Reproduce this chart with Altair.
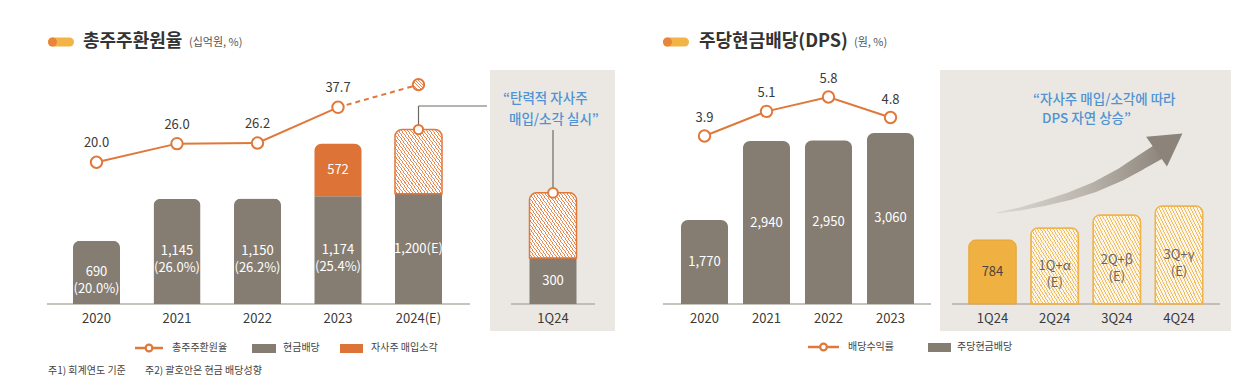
import altair as alt
import pandas as pd

FONT = "Noto Sans CJK KR"
GREY = "#857d72"
ORANGE = "#e0783a"
ORANGE_BAR = "#dd7336"
GOLD = "#f0b143"
BG = "#ebe8e3"
AXIS = "#b4afa7"
TXT = "#3a3a3a"
BLUE = "#4f93d3"

# ---------------- data ----------------
years = ["2020", "2021", "2022", "2023", "2024(E)"]
cash_div = [690, 1145, 1150, 1174, 1200]
payout = [20.0, 26.0, 26.2, 25.4, None]
buyback = [0, 0, 0, 572, 700]
estimate = [False, False, False, False, True]
tsr = [20.0, 26.0, 26.2, 37.7, 45.0]

q1_cat = ["1Q24"]
q1_cash = [300]
q1_buy = [425]

dps_years = ["2020", "2021", "2022", "2023"]
dps = [1770, 2940, 2950, 3060]
dps_yield = [3.9, 5.1, 5.8, 4.8]

quarters = ["1Q24", "2Q24", "3Q24", "4Q24"]
q_dps = [784, 930, 1090, 1200]
q_labels = ["784", "1Q+α\n(E)", "2Q+β\n(E)", "3Q+γ\n(E)"]
q_est = [False, True, True, True]

# decorative arrow path (quarter position, value units)
arrow_q = [0.072, 0.442, 0.844, 1.247, 1.649, 2.051, 2.373, 2.663]
arrow_v = [1115, 1164, 1237, 1323, 1433, 1580, 1727, 1862]
head_q = [2.847]
head_v = [1978]

H = 371
dummy = pd.DataFrame({"k": [0]})


def hatch(line_col, bg_col, n, duty=0.32):
    stops = []
    for i in range(n):
        a, b, c = i / n, (i + duty) / n, (i + 1) / n
        stops += [
            {"offset": a, "color": line_col},
            {"offset": b, "color": line_col},
            {"offset": b, "color": bg_col},
            {"offset": c, "color": bg_col},
        ]
    return {"gradient": "linear", "x1": 1, "y1": 0, "x2": 0, "y2": 1, "stops": stops}


def vtext(txt, x, y, size=13, color=TXT, weight="normal", align="center"):
    return alt.Chart(dummy).mark_text(
        text=txt, fontSize=size, color=color, fontWeight=weight, align=align,
        baseline="middle", font=FONT
    ).encode(x=alt.value(x), y=alt.value(y))


def hrule(x1, x2, y, color=AXIS, w=1.5):
    return alt.Chart(dummy).mark_rule(color=color, strokeWidth=w).encode(
        x=alt.value(x1), x2=alt.value(x2), y=alt.value(y))


def rect(x1, x2, y1, y2, color):
    return alt.Chart(dummy).mark_rect(color=color).encode(
        x=alt.value(x1), x2=alt.value(x2), y=alt.value(y1), y2=alt.value(y2))


def pill(x, y):
    return [
        alt.Chart(dummy).mark_rule(color="#f2b347", strokeWidth=9, strokeCap="round").encode(
            x=alt.value(x + 4.5), x2=alt.value(x + 21.5), y=alt.value(y)),
        alt.Chart(dummy).mark_point(shape="circle", filled=True, color="#e8853a", size=81, opacity=1).encode(
            x=alt.value(x + 4.5), y=alt.value(y)),
    ]


def legend_line(x1, x2, y):
    return [
        alt.Chart(dummy).mark_rule(color=ORANGE, strokeWidth=2.5).encode(
            x=alt.value(x1), x2=alt.value(x2), y=alt.value(y)),
        alt.Chart(dummy).mark_point(shape="circle", filled=True, fill="white", stroke=ORANGE,
                                    strokeWidth=2.2, size=45, opacity=1).encode(
            x=alt.value((x1 + x2) / 2), y=alt.value(y)),
    ]


def open_pt(size=130):
    return dict(shape="circle", filled=True, fill="white", stroke=ORANGE, strokeWidth=2, size=size, opacity=1)


# ---------------- panel 1 : total shareholder return ----------------
lab1 = []
for c, p, e in zip(cash_div, payout, estimate):
    lab1.append(f"{c:,}(E)" if e else f"{c:,}\n({p:.1f}%)")
df1 = pd.DataFrame({"year": years, "cash": cash_div, "buy": buyback, "est": estimate,
                    "tsr": tsr, "lab": lab1})
df1["total"] = df1["cash"] + df1["buy"]

xs1 = alt.Scale(domain=years, range=[48.25, 450.75], paddingInner=0.416, paddingOuter=0.208)
ys1 = alt.Scale(domain=[0, 3000], range=[296, 20.6], zero=False)
yl1 = alt.Scale(domain=[0, 50], range=[216.4, 61.1], zero=False)
X1 = alt.X("year:N", scale=xs1, axis=None)
base1 = alt.Chart(df1)

p1_layers = [
    hrule(39, 462, 296),
    base1.transform_filter("datum.buy == 0").mark_bar(
        color=GREY, cornerRadiusTopLeft=7, cornerRadiusTopRight=7).encode(
        x=X1, y=alt.Y("cash:Q", scale=ys1, axis=None)),
    base1.transform_filter("datum.buy > 0").mark_bar(color=GREY).encode(
        x=X1, y=alt.Y("cash:Q", scale=ys1, axis=None)),
    base1.transform_filter("datum.buy > 0 && !datum.est").mark_bar(
        color=ORANGE_BAR, cornerRadiusTopLeft=7, cornerRadiusTopRight=7).encode(
        x=X1, y=alt.Y("total:Q", scale=ys1, axis=None), y2="cash:Q"),
    base1.transform_filter("datum.est").mark_bar(
        fill=hatch("#e9874e", "#ffffff", 30), stroke=ORANGE, strokeWidth=1.5,
        cornerRadiusTopLeft=7, cornerRadiusTopRight=7).encode(
        x=X1, y=alt.Y("total:Q", scale=ys1, axis=None), y2="cash:Q"),
    base1.transform_calculate(mid="datum.cash/2").mark_text(
        color="white", fontSize=13, lineBreak="\n", lineHeight=17, font=FONT).encode(
        x=X1, y=alt.Y("mid:Q", scale=ys1, axis=None), text="lab:N"),
    base1.transform_filter("datum.buy > 0 && !datum.est").transform_calculate(
        mid="(datum.cash + datum.total)/2").mark_text(color="white", fontSize=13, font=FONT).encode(
        x=X1, y=alt.Y("mid:Q", scale=ys1, axis=None), text=alt.Text("buy:Q", format=",")),
    # connector from 2024 bar to the 1Q24 box
    base1.transform_filter("datum.est").mark_rule(color="#6e6862", strokeWidth=1.2).encode(
        x=X1, y=alt.Y("total:Q", scale=ys1, axis=None), y2=alt.value(98)),
    base1.transform_filter("datum.est").mark_rule(color="#6e6862", strokeWidth=1.2).encode(
        x=X1, x2=alt.value(479), y=alt.value(98)),
    base1.transform_filter("datum.est").mark_point(**open_pt(85)).encode(
        x=X1, y=alt.Y("total:Q", scale=ys1, axis=None)),
    # total shareholder return line
    base1.transform_filter("!datum.est").mark_line(color=ORANGE, strokeWidth=2).encode(
        x=X1, y=alt.Y("tsr:Q", scale=yl1, axis=None)),
    base1.transform_filter("datum.year == '2023' || datum.est").mark_line(
        color=ORANGE, strokeWidth=2, strokeDash=[5, 4]).encode(
        x=X1, y=alt.Y("tsr:Q", scale=yl1, axis=None)),
    base1.transform_filter("!datum.est").mark_point(**open_pt()).encode(
        x=X1, y=alt.Y("tsr:Q", scale=yl1, axis=None)),
    base1.transform_filter("datum.est").mark_point(
        shape="circle", filled=True, fill=hatch("#e9874e", "#ffffff", 7), stroke=ORANGE,
        strokeWidth=2, size=130, opacity=1).encode(
        x=X1, y=alt.Y("tsr:Q", scale=yl1, axis=None)),
    base1.transform_filter("!datum.est").mark_text(dy=-19, fontSize=13, color=TXT, font=FONT).encode(
        x=X1, y=alt.Y("tsr:Q", scale=yl1, axis=None), text=alt.Text("tsr:Q", format=".1f")),
    base1.mark_text(fontSize=13, color=TXT, font=FONT).encode(
        x=X1, y=alt.value(311), text="year:N"),
    # title
    *pill(40, 34),
    vtext("총주주환원율", 75, 34, size=18, weight="bold", align="left", color="#333333"),
    vtext("(십억원, %)", 181, 35, size=11, align="left", color="#555555"),
    # legend
    *legend_line(127, 155, 340),
    vtext("총주주환원율", 164, 340, size=10, align="left", color="#444444"),
    rect(244, 268, 336, 345, GREY),
    vtext("현금배당", 275, 340, size=10, align="left", color="#444444"),
    rect(332, 355, 336, 345, ORANGE_BAR),
    vtext("자사주 매입소각", 363, 340, size=10, align="left", color="#444444"),
    # footnotes
    vtext("주1) 회계연도 기준", 40, 363, size=10, align="left", color="#444444"),
    vtext("주2) 괄호안은 현금 배당성향", 137, 363, size=10, align="left", color="#444444"),
]
p1 = alt.layer(*p1_layers).resolve_scale(y="independent").properties(width=482, height=H)

# ---------------- panel 2 : 1Q24 ----------------
df2 = pd.DataFrame({"q": q1_cat, "cash": q1_cash, "buy": q1_buy})
df2["total"] = df2["cash"] + df2["buy"]
xs2 = alt.Scale(domain=q1_cat, range=[22.75, 103.25], paddingInner=0.416, paddingOuter=0.208)
ys2 = alt.Scale(domain=[0, 1000], range=[296, 142.7], zero=False)
X2 = alt.X("q:N", scale=xs2, axis=None)
base2 = alt.Chart(df2)
p2_layers = [
    rect(0, 125, 62, 323, BG),
    hrule(21, 105, 296),
    base2.mark_bar(color=GREY).encode(x=X2, y=alt.Y("cash:Q", scale=ys2, axis=None)),
    base2.mark_bar(fill=hatch("#e9874e", "#ffffff", 30), stroke=ORANGE, strokeWidth=1.5,
                   cornerRadiusTopLeft=7, cornerRadiusTopRight=7).encode(
        x=X2, y=alt.Y("total:Q", scale=ys2, axis=None), y2="cash:Q"),
    base2.transform_calculate(mid="datum.cash/2").mark_text(color="white", fontSize=13, font=FONT).encode(
        x=X2, y=alt.Y("mid:Q", scale=ys2, axis=None), text=alt.Text("cash:Q", format=",")),
    base2.mark_rule(color="#6e6862", strokeWidth=1.2).encode(
        x=X2, y=alt.Y("total:Q", scale=ys2, axis=None), y2=alt.value(122)),
    base2.mark_point(**open_pt(95)).encode(x=X2, y=alt.Y("total:Q", scale=ys2, axis=None)),
    base2.mark_text(fontSize=13, color=TXT, font=FONT).encode(x=X2, y=alt.value(311), text="q:N"),
    vtext("“탄력적 자사주", 13, 91, size=13.5, color=BLUE, weight=500, align="left"),
    vtext("매입/소각 실시”", 19, 112, size=13.5, color=BLUE, weight=500, align="left"),
]
p2 = alt.layer(*p2_layers).properties(width=150, height=H)

# ---------------- panel 3 : DPS ----------------
DPS_BASE = 524.5
df3 = pd.DataFrame({"year": dps_years, "dps": dps, "yld": dps_yield})
xs3 = alt.Scale(domain=dps_years, range=[33.5, 281.5], paddingInner=0.242, paddingOuter=0.121)
ys3 = alt.Scale(domain=[DPS_BASE, 4000], range=[296, 61.6], zero=False)
yl3 = alt.Scale(domain=[0, 8], range=[207.95, 43.95], zero=False)
X3 = alt.X("year:N", scale=xs3, axis=None)
base3 = alt.Chart(df3)
p3_layers = [
    hrule(23, 291, 296),
    base3.mark_bar(color=GREY, cornerRadiusTopLeft=7, cornerRadiusTopRight=7).encode(
        x=X3, y=alt.Y("dps:Q", scale=ys3, axis=None), y2=alt.datum(DPS_BASE)),
    base3.transform_calculate(mid=f"(datum.dps + {DPS_BASE})/2").mark_text(
        color="white", fontSize=13, font=FONT).encode(
        x=X3, y=alt.Y("mid:Q", scale=ys3, axis=None), text=alt.Text("dps:Q", format=",")),
    base3.mark_line(color=ORANGE, strokeWidth=2).encode(
        x=X3, y=alt.Y("yld:Q", scale=yl3, axis=None)),
    base3.mark_point(**open_pt()).encode(x=X3, y=alt.Y("yld:Q", scale=yl3, axis=None)),
    base3.mark_text(dy=-18, fontSize=13, color=TXT, font=FONT).encode(
        x=X3, y=alt.Y("yld:Q", scale=yl3, axis=None), text=alt.Text("yld:Q", format=".1f")),
    base3.mark_text(fontSize=13, color=TXT, font=FONT).encode(x=X3, y=alt.value(311), text="year:N"),
    *pill(23, 34),
    vtext("주당현금배당(DPS)", 59, 34, size=18, weight="bold", align="left", color="#333333"),
    vtext("(원, %)", 214, 35, size=11, align="left", color="#555555"),
    *legend_line(168, 199, 339),
    vtext("배당수익률", 208, 339, size=10, align="left", color="#444444"),
    rect(288, 311, 335, 344, GREY),
    vtext("주당현금배당", 317, 339, size=10, align="left", color="#444444"),
]
p3 = alt.layer(*p3_layers).resolve_scale(y="independent").properties(width=296, height=H)

# ---------------- panel 4 : quarterly DPS ----------------
df4 = pd.DataFrame({"q": quarters, "dps": q_dps, "lab": q_labels, "est": q_est})
xs4 = alt.Scale(domain=quarters, range=[25.4, 274.1], paddingInner=0.236, paddingOuter=0.118)
ys4 = alt.Scale(domain=[0, 2000], range=[296, 132.7], zero=False)
xa4 = alt.Scale(domain=[0, 3], range=[56.5, 243])
X4 = alt.X("q:N", scale=xs4, axis=None)
base4 = alt.Chart(df4)
arrow_df = pd.DataFrame({"aq": arrow_q, "av": arrow_v})
head_df = pd.DataFrame({"aq": head_q, "av": head_v})
arrow_grad = {"gradient": "linear", "x1": 0, "y1": 0, "x2": 1, "y2": 0,
              "stops": [{"offset": 0, "color": "#dcd8d2"}, {"offset": 0.5, "color": "#bdb7b0"},
                        {"offset": 1, "color": "#8c847a"}]}
p4_layers = [
    rect(4, 295, 62, 323, BG),
    hrule(16, 284, 296),
    base4.transform_filter("!datum.est").mark_bar(
        color=GOLD, stroke="#e8a73c", strokeWidth=1, cornerRadiusTopLeft=7, cornerRadiusTopRight=7).encode(
        x=X4, y=alt.Y("dps:Q", scale=ys4, axis=None)),
    base4.transform_filter("datum.est").mark_bar(
        fill=hatch("#f1bf62", "#fdf6e8", 30), stroke="#efb34a", strokeWidth=1.5,
        cornerRadiusTopLeft=7, cornerRadiusTopRight=7).encode(
        x=X4, y=alt.Y("dps:Q", scale=ys4, axis=None)),
    base4.transform_filter("!datum.est").transform_calculate(mid="datum.dps/2").mark_text(
        color="#4f4439", fontSize=13, font=FONT).encode(
        x=X4, y=alt.Y("mid:Q", scale=ys4, axis=None), text="lab:N"),
    base4.transform_filter("datum.est").transform_calculate(mid="datum.dps/2").mark_text(
        color="#6a6560", fontSize=13, lineBreak="\n", lineHeight=17, font=FONT).encode(
        x=X4, y=alt.Y("mid:Q", scale=ys4, axis=None), text="lab:N"),
    base4.mark_text(fontSize=13, color=TXT, font=FONT).encode(x=X4, y=alt.value(311), text="q:N"),
    alt.Chart(arrow_df).mark_trail(fill=arrow_grad).encode(
        x=alt.X("aq:Q", scale=xa4, axis=None),
        y=alt.Y("av:Q", scale=ys4, axis=None),
        size=alt.Size("aq:Q", scale=alt.Scale(domain=[0.07, 2.66], range=[1, 16]), legend=None)),
    alt.Chart(head_df).mark_point(
        shape="M1,0L-1,-1.15L-1,1.15Z", filled=True, fill="#8c847a", strokeWidth=0,
        angle=325, size=1000, opacity=1).encode(
        x=alt.X("aq:Q", scale=xa4, axis=None), y=alt.Y("av:Q", scale=ys4, axis=None)),
    vtext("“자사주 매입/소각에 따라", 97, 92, size=13.5, color=BLUE, weight=500, align="left"),
    vtext("DPS 자연 상승”", 106, 111, size=13.5, color=BLUE, weight=500, align="left"),
]
p4 = alt.layer(*p4_layers).resolve_scale(x="independent").properties(width=307, height=H)

chart = alt.hconcat(p1, p2, p3, p4, spacing=0, bounds="flush").properties(
    padding=0
).configure(font=FONT).configure_view(strokeWidth=0, stroke="transparent")

chart.save("out.html", embed_options={"renderer": "svg", "actions": False})
